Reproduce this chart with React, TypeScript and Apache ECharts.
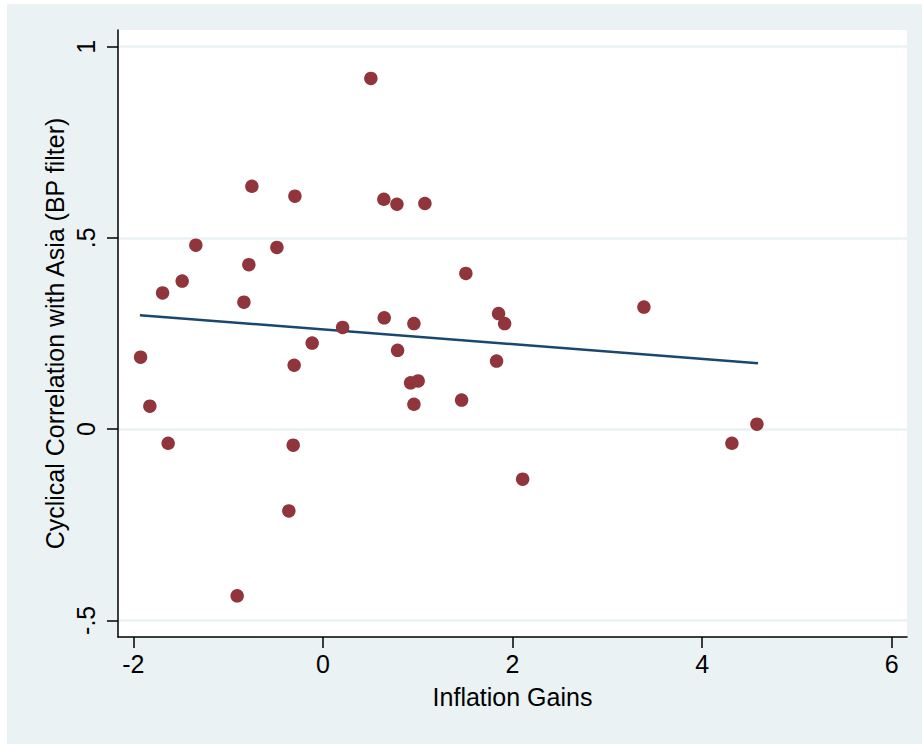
import React, { useEffect, useRef } from "react";
import * as echarts from "echarts";

const inflationGains = [
  0.506, -0.749, -0.295, 0.643, 0.781, 1.076, -1.34, -0.485, -0.781, 1.508, -1.484, -1.691,
  -0.833, 3.386, 1.853, 0.647, 0.96, 1.917, 0.208, -0.113, 0.788, -1.923, 1.832, -0.303,
  1.005, 0.925, -1.825, 0.96, 1.463, 4.578, -1.632, -0.313, 4.314, 2.107, -0.359, -0.904,
];
const cyclicalCorrelation = [
  0.917, 0.635, 0.609, 0.601, 0.588, 0.59, 0.481, 0.475, 0.43, 0.407, 0.387, 0.356,
  0.332, 0.319, 0.302, 0.291, 0.276, 0.276, 0.266, 0.225, 0.206, 0.188, 0.178, 0.167,
  0.126, 0.121, 0.06, 0.065, 0.076, 0.013, -0.037, -0.042, -0.037, -0.131, -0.214, -0.436,
];
const fitX = [-1.93, 4.59];
const fitY = [0.2977, 0.1724];
const xTicks = [-2, 0, 2, 4, 6];
const yTicks = [-0.5, 0, 0.5, 1];

const FONT = "'Liberation Sans', Arial, sans-serif";
const fmt = (v: number) => String(v).replace("0.", ".");

export default function App() {
  const ref = useRef<HTMLDivElement>(null);
  useEffect(() => {
    document.body.style.margin = "0";
    const chart = echarts.init(ref.current!, null, { renderer: "svg" });
    chart.setOption({
      animation: false,
      backgroundColor: "#ffffff",
      graphic: [
        {
          type: "rect",
          z: -10,
          silent: true,
          shape: { x: 7, y: 4, width: 915, height: 740 },
          style: { fill: "#EAF2F3" },
        },
      ],
      grid: {
        left: 118,
        right: 15,
        top: 30,
        bottom: 107,
        show: true,
        backgroundColor: "#ffffff",
        borderWidth: 0,
        outerBoundsMode: "none",
      },
      xAxis: {
        type: "value",
        min: -2.161,
        max: 6.161,
        name: "Inflation Gains",
        nameLocation: "middle",
        nameGap: 47,
        nameMoveOverlap: false,
        nameTextStyle: { fontFamily: FONT, fontSize: 25, color: "#000" },
        axisLine: { show: true, onZero: false, lineStyle: { color: "#000", width: 1.5 } },
        axisTick: { show: true, length: 11, customValues: xTicks, lineStyle: { color: "#000", width: 1.5 } },
        axisLabel: {
          customValues: xTicks,
          margin: 14,
          fontFamily: FONT,
          fontSize: 25,
          color: "#000",
          formatter: (v: number) => fmt(v),
        },
        splitLine: { show: false },
      },
      yAxis: {
        type: "value",
        min: -0.5436,
        max: 1.0436,
        name: "Cyclical Correlation with Asia (BP filter)",
        nameLocation: "middle",
        nameGap: 51,
        nameMoveOverlap: false,
        nameTextStyle: { fontFamily: FONT, fontSize: 25, color: "#000" },
        axisLine: { show: true, onZero: false, lineStyle: { color: "#000", width: 1.5 } },
        axisTick: { show: true, length: 11, customValues: yTicks, lineStyle: { color: "#000", width: 1.5 } },
        axisLabel: {
          customValues: yTicks,
          rotate: 90,
          margin: 20,
          fontFamily: FONT,
          fontSize: 25,
          color: "#000",
          formatter: (v: number) => fmt(v),
        },
        splitLine: { show: true, lineStyle: { color: "#EAF2F3", width: 2.5 } },
      },
      series: [
        {
          type: "line",
          data: fitX.map((x, i) => [x, fitY[i]]),
          showSymbol: false,
          symbol: "none",
          lineStyle: { color: "#1A476F", width: 2.5 },
          z: 2,
        },
        {
          type: "scatter",
          data: inflationGains.map((x, i) => [x, cyclicalCorrelation[i]]),
          symbolSize: 13.5,
          itemStyle: { color: "#90353B", opacity: 1 },
          z: 3,
        },
      ],
    });
    return () => chart.dispose();
  }, []);
  return <div ref={ref} style={{ width: 922, height: 744 }} />;
}
